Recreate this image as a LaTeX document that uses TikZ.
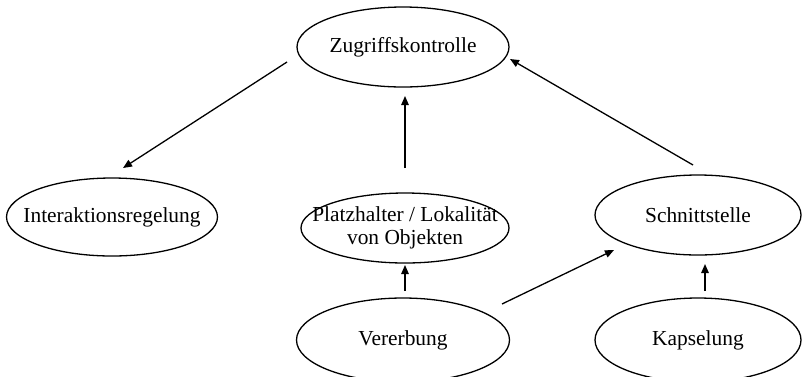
\documentclass[tikz,border=0pt]{standalone}
\usepackage{fontspec}
\setmainfont{Liberation Serif}
\usetikzlibrary{shapes.geometric,arrows.meta}
\tikzset{
  concept/.style={draw, ellipse, line width=1.3pt, inner xsep=-40pt, inner ysep=-6pt,
    align=center, font=\fontsize{21.4}{25}\selectfont},
  arr/.style={line width=1.3pt, -{Triangle[length=9pt,width=7.5pt]}}
}
\begin{document}
\begin{tikzpicture}[x=1pt,y=-1pt]
\useasboundingbox (0,0) rectangle (802,376);
% concepts
\node[concept, minimum width=212pt, minimum height=80pt] (zk) at (403,47) {Zugriffskontrolle};
\node[concept, minimum width=211pt, minimum height=78pt] (ir) at (112,217) {Interaktionsregelung};
\node[concept, minimum width=208pt, minimum height=70pt] (ph) at (405,228) {Platzhalter / Lokalität\\[-2pt]von Objekten};
\node[concept, minimum width=206pt, minimum height=80pt] (sn) at (698,215) {Schnittstelle};
\node[concept, minimum width=213pt, minimum height=84pt] (vb) at (403,340) {Vererbung};
\node[concept, minimum width=206pt, minimum height=84pt] (ks) at (698,340) {Kapselung};
% connector ends, kept clear of the ellipses
\coordinate (zk-out) at (287,62);
\coordinate (ir-in) at (123,168);
\coordinate (ph-out) at (405,168);
\coordinate (zk-in-a) at (405,96);
\coordinate (sn-out) at (693,165);
\coordinate (zk-in-b) at (510,59);
\coordinate (vb-out-a) at (405,291);
\coordinate (ph-in) at (405,265);
\coordinate (vb-out-b) at (502,304);
\coordinate (sn-in-a) at (614,250);
\coordinate (ks-out) at (705,291);
\coordinate (sn-in-b) at (705,264);
% relations
\draw[arr] (zk-out) -- (ir-in);
\draw[arr] (ph-out) -- (zk-in-a);
\draw[arr] (sn-out) -- (zk-in-b);
\draw[arr] (vb-out-a) -- (ph-in);
\draw[arr] (vb-out-b) -- (sn-in-a);
\draw[arr] (ks-out) -- (sn-in-b);
\end{tikzpicture}
\end{document}
